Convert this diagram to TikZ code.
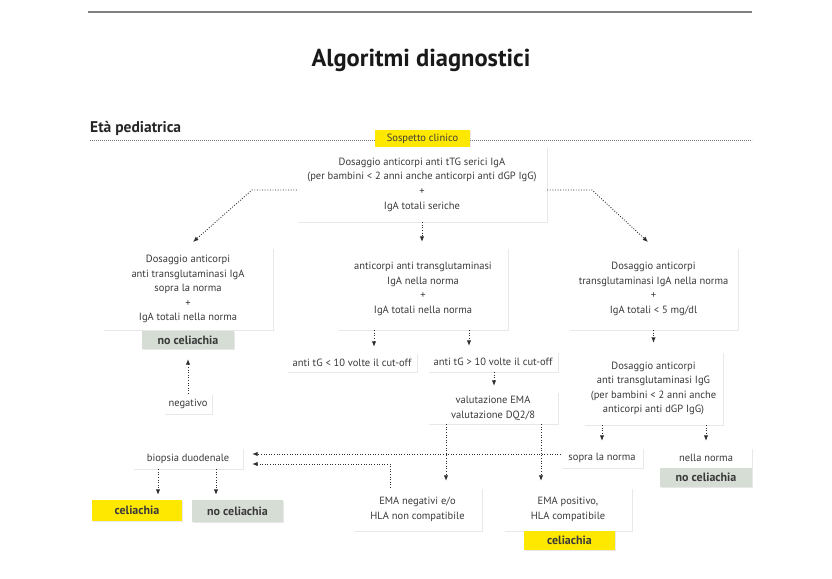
\documentclass[tikz,border=0pt]{standalone}
\usepackage{fontspec}
\setmainfont{PT Sans}
\usetikzlibrary{arrows.meta,shadows}
\definecolor{ylw}{HTML}{FFE800}
\definecolor{gry}{HTML}{D6DDD5}
\definecolor{txt}{HTML}{3A3A3A}
\definecolor{ln}{HTML}{2E2E2E}
\tikzset{
  bx/.style={fill=white, drop shadow={shadow xshift=1.3pt,shadow yshift=-1.3pt,opacity=0.18},
    text=txt, font=\fontsize{10.5}{14.6}\selectfont, align=center, inner sep=0pt},
  ybx/.style={bx, fill=ylw},
  gbx/.style={bx, fill=gry},
  bold/.style={font=\fontsize{12}{13}\selectfont\bfseries},
  conn/.style={draw=ln, line width=0.9pt, dash pattern=on 0.9pt off 1.7pt,
    -{Latex[length=5.5pt,width=4.5pt]}},
  secline/.style={draw=black!55, line width=0.6pt, dash pattern=on 0.6pt off 1.4pt}
}
\begin{document}
\begin{tikzpicture}[x=1pt,y=-1pt]
\useasboundingbox[fill=white] (0,0) rectangle (832,578);
% header
\draw[black!50, line width=1.2pt] (88,12) -- (752,12);
\node[font=\fontsize{24.5}{28}\selectfont\bfseries, text=black!90] (title) at (421,60) {Algoritmi diagnostici};
\node[anchor=west, font=\fontsize{15.5}{17}\selectfont\bfseries, text=black!85, inner sep=0pt] (eta) at (90,128) {Età pediatrica};
\draw[secline] (90,140) -- (752,140);
% boxes
\node[ybx, minimum width=95pt, minimum height=17pt] (sosp) at (422.5,138.5) {Sospetto clinico};
\node[bx, minimum width=250pt, minimum height=75pt] (main) at (422,184.5)
  {Dosaggio anticorpi anti tTG serici IgA\\(per bambini < 2 anni anche anticorpi anti dGP IgG)\\+\\IgA totali seriche};
\node[bx, minimum width=170pt, minimum height=82pt] (L1) at (188,289)
  {Dosaggio anticorpi\\anti transglutaminasi IgA\\sopra la norma\\+\\IgA totali nella norma};
\node[gbx, bold, minimum width=92pt, minimum height=18pt] (nc1) at (188,340) {no celiachia};
\node[bx, minimum width=48pt, minimum height=20pt] (neg) at (188,404) {negativo};
\node[bx, minimum width=170pt, minimum height=82pt] (M1) at (423,289)
  {anticorpi anti transglutaminasi\\IgA nella norma\\+\\IgA totali nella norma};
\node[bx, minimum width=130pt, minimum height=19pt] (lt10) at (352,362.5) {anti tG < 10 volte il cut-off};
\node[bx, minimum width=130pt, minimum height=20pt] (gt10) at (493,362) {anti tG > 10 volte il cut-off};
\node[bx, minimum width=130pt, minimum height=32pt] (val) at (493,408) {valutazione EMA\\valutazione DQ2/8};
\node[bx, minimum width=169pt, minimum height=82pt] (R1) at (653.5,289)
  {Dosaggio anticorpi\\transglutaminasi IgA nella norma\\+\\IgA totali < 5 mg/dl};
\node[bx, minimum width=139pt, minimum height=73pt] (R2) at (653.5,388.5)
  {Dosaggio anticorpi\\anti transglutaminasi IgG\\(per bambini < 2 anni anche\\anticorpi anti dGP IgG)};
\node[bx, minimum width=82pt, minimum height=20pt] (sopra) at (602,458) {sopra la norma};
\node[bx, minimum width=92pt, minimum height=20pt] (nella) at (706,458) {nella norma};
\node[gbx, bold, minimum width=92pt, minimum height=19pt] (nc2) at (706,477.5) {no celiachia};
\node[bx, minimum width=110pt, minimum height=21pt] (biop) at (188,458.5) {biopsia duodenale};
\node[ybx, bold, minimum width=90pt, minimum height=21pt] (cel1) at (137,510.5) {celiachia};
\node[gbx, bold, minimum width=91pt, minimum height=22pt] (nc3) at (237.5,511) {no celiachia};
\node[bx, minimum width=129pt, minimum height=43pt] (emaneg) at (417.5,509.5) {EMA negativi e/o\\HLA non compatibile};
\node[bx, minimum width=128pt, minimum height=43pt] (emapos) at (568,509.5) {EMA positivo,\\HLA compatibile};
\node[ybx, bold, minimum width=91pt, minimum height=19pt] (cel2) at (569.5,540.5) {celiachia};
% connectors
\coordinate (cl) at (252,190); \coordinate (tl) at (193,242);
\coordinate (cr) at (592,190); \coordinate (tr) at (648,242);
\draw[conn] (main.west |- cl) -- (cl) -- (tl);
\draw[conn] (main.east |- cr) -- (cr) -- (tr);
\draw[conn, shorten >=6pt] (main.south) -- (main.south |- M1.north);
\draw[conn, shorten >=6pt] ([xshift=-49pt]M1.south) coordinate (m1) -- (m1 |- lt10.north);
\draw[conn, shorten >=6pt] ([xshift=46pt]M1.south) coordinate (m2) -- (m2 |- gt10.north);
\draw[conn, shorten >=6pt] ([xshift=1pt]gt10.south) coordinate (g1) -- (g1 |- val.north);
\draw[conn, shorten >=9pt] (R1.south) -- (R2.north);
\draw[conn, shorten >=7pt] (sopra.north |- R2.south) -- (sopra.north);
\draw[conn, shorten >=7pt] (nella.north |- R2.south) -- (nella.north);
\draw[conn, shorten >=10pt] (neg.north) -- (nc1.south);
\draw[conn, shorten >=7pt] ([xshift=-47pt]val.south) coordinate (v1) -- (v1 |- emaneg.north);
\draw[conn, shorten >=7pt] ([xshift=48pt]val.south) coordinate (v2) -- (v2 |- emapos.north);
\coordinate (b1) at ([yshift=4.5pt]biop.east);
\coordinate (b2) at ([yshift=-5.5pt]biop.east);
\draw[conn, shorten >=9pt] (sopra.west |- b1) -- (b1);
\draw[conn, shorten >=9pt] ([xshift=-27.5pt]emaneg.north) coordinate (e1) -- (e1 |- b2) -- (b2);
\draw[conn, shorten >=5pt] ([xshift=-30pt]biop.south) coordinate (d1) -- (d1 |- cel1.north);
\draw[conn, shorten >=5pt] ([xshift=28pt]biop.south) coordinate (d2) -- (d2 |- nc3.north);
\end{tikzpicture}
\end{document}
